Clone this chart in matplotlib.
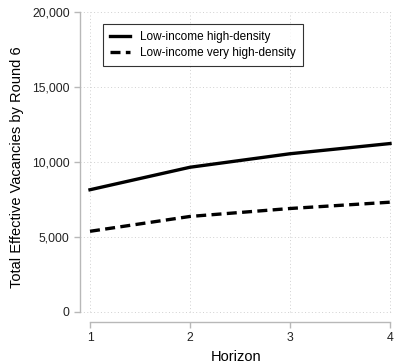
import matplotlib.pyplot as plt

plt.rcParams['font.family'] = ['Liberation Sans', 'DejaVu Sans']

horizon = [1, 2, 3, 4]
high_density = [8150, 9650, 10550, 11230]
very_high_density = [5380, 6370, 6900, 7320]
yticks = [0, 5000, 10000, 15000, 20000]

fig = plt.figure(figsize=(3.94, 3.63), dpi=100)
ax = fig.add_axes([80 / 394, (363 - 322) / 363, 313 / 394, 310 / 363])

ax.set_xlim(0.9, 4.03)
ax.set_ylim(-667, 20000)

# dotted grid, limited to the data range
for y in yticks:
    ax.plot([0.9, 4.03], [y, y], ls=(0, (1, 2.5)), lw=0.7, color='#d0d0d0', zorder=0, clip_on=False)
for x in horizon:
    ax.plot([x, x], [0, 20000], ls=(0, (1, 2.5)), lw=0.7, color='#d0d0d0', zorder=0, clip_on=False)

ax.plot(horizon, high_density, color='black', lw=2.4, label='Low-income high-density')
ax.plot(horizon, very_high_density, color='black', lw=2.4, ls=(0, (3, 1.6)),
        label='Low-income very high-density')

for s in ['top', 'right']:
    ax.spines[s].set_visible(False)
ax.spines['left'].set_bounds(0, 20000)
ax.spines['bottom'].set_bounds(1, 4)
for s in ['left', 'bottom']:
    ax.spines[s].set_color('#b8b8b8')
    ax.spines[s].set_linewidth(1.0)

ax.set_xticks(horizon)
ax.set_yticks(yticks)
ax.set_yticklabels([f'{v:,}' for v in yticks])
ax.tick_params(axis='both', colors='#b8b8b8', labelcolor='#222222', labelsize=8.8, length=4, width=1)

ax.set_xlabel('Horizon', fontsize=10.5, labelpad=4)
ax.set_ylabel('Total Effective Vacancies by Round 6', fontsize=10.5, labelpad=6)

leg = ax.legend(loc='upper left', bbox_to_anchor=(0.055, 0.98), fontsize=8.5, frameon=True,
                fancybox=False, edgecolor='black', handlelength=1.7, handletextpad=0.8,
                borderpad=0.6, labelspacing=0.35)
leg.get_frame().set_linewidth(0.8)

fig.savefig('out.png', dpi=100)
